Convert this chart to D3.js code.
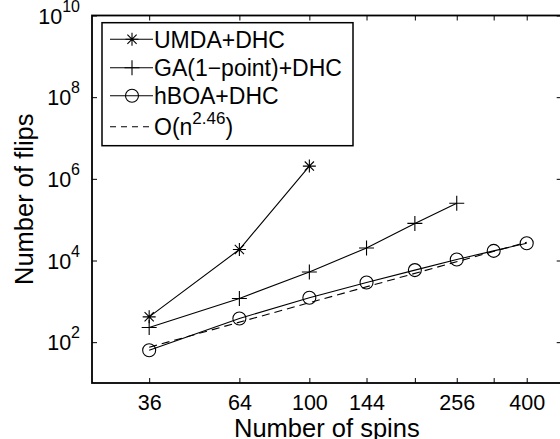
<!DOCTYPE html>
<html lang="en">
<head>
<meta charset="utf-8">
<title>Number of flips vs spins</title>
<script src="https://cdn.jsdelivr.net/npm/d3@7"></script>
<style>
  body { margin: 0; background: #fff; }
  text { font-family: "Liberation Sans", Arial, Helvetica, sans-serif; fill: #000; }
</style>
</head>
<body>
<script>
// data
var spins = [36, 64, 100, 144, 196, 256, 324, 400];
var spinLabels = ["36", "64", "100", "144", "", "256", "", "400"];
var umda = [417, 18600, 2050000];                         // n = 36, 64, 100
var ga = [229, 1175, 5250, 20300, 81000, 253000];         // n = 36 .. 256
var hboa = [63.6, 381, 1220, 2900, 5820, 10600, 17200, 26500];
var fitSpins = [36, 400];
var fitFlips = [75, 28000];
var yTicks = [1e2, 1e4, 1e6, 1e8, 1e10];
var yExps = ["2", "4", "6", "8", "10"];

var W = 560, H = 439;
// plot box (note: "top" is reserved on window, so use px*)
var pxL = 92, pxR = 561.7, pxT = 15.5, pxB = 383;

var svg = d3.select("body").append("svg")
  .attr("width", W).attr("height", H);

var x = d3.scaleLog().domain([25, 500]).range([pxL, pxR]);
var y = d3.scaleLog().domain([10, 1e10]).range([pxB, pxT]);

// axes, ticks pointing inward
var xAxis = d3.axisBottom(x).tickValues(spins)
  .tickFormat(function(d, i) { return spinLabels[i]; })
  .tickSizeInner(-5).tickSizeOuter(0).tickPadding(12);
var gx = svg.append("g").attr("transform", "translate(0," + pxB + ")").call(xAxis);
gx.selectAll("text").style("font-size", "21.5px");

svg.append("g").attr("transform", "translate(0," + pxT + ")")
  .call(d3.axisTop(x).tickValues(spins).tickFormat("").tickSizeInner(-5).tickSizeOuter(0));

var yAxis = d3.axisLeft(y).tickValues(yTicks).tickSizeInner(-5).tickSizeOuter(0).tickPadding(12);
var gy = svg.append("g").attr("transform", "translate(" + pxL + ",0)").call(yAxis);
gy.selectAll("text").each(function(d, i) {
  var t = d3.select(this).text("").attr("dy", "0.35em").style("font-size", "21.5px");
  t.append("tspan").text("10");
  t.append("tspan").attr("dy", "-12").style("font-size", "16px").text(yExps[i]);
});

svg.append("g").attr("transform", "translate(" + pxR + ",0)")
  .call(d3.axisRight(y).tickValues(yTicks).tickFormat("").tickSizeInner(-5).tickSizeOuter(0));

svg.selectAll(".domain").remove();
svg.selectAll(".tick line").attr("stroke", "#000").attr("stroke-width", 1);

// frame
svg.append("rect")
  .attr("x", pxL).attr("y", pxT)
  .attr("width", pxR - pxL).attr("height", pxB - pxT)
  .attr("fill", "none").attr("stroke", "#000").attr("stroke-width", 1.8);

// axis labels
svg.append("text")
  .attr("x", (pxL + pxR) / 2).attr("y", 436.5)
  .attr("text-anchor", "middle").style("font-size", "25.5px")
  .text("Number of spins");
svg.append("text")
  .attr("transform", "translate(32.5," + (pxT + pxB) / 2 + ") rotate(-90)")
  .attr("text-anchor", "middle").style("font-size", "25.5px")
  .text("Number of flips");

// markers
function star(g, cx, cy) {
  var r = 6.5, d = r * 0.71;
  var p = "M" + (cx - r) + "," + cy + "h" + (2 * r) +
          "M" + cx + "," + (cy - r) + "v" + (2 * r) +
          "M" + (cx - d) + "," + (cy - d) + "l" + (2 * d) + "," + (2 * d) +
          "M" + (cx - d) + "," + (cy + d) + "l" + (2 * d) + "," + (-2 * d);
  g.append("path").attr("d", p).attr("stroke", "#000").attr("stroke-width", 1.1).attr("fill", "none");
}
function plus(g, cx, cy) {
  var r = 7.5;
  g.append("path").attr("d", "M" + (cx - r) + "," + cy + "h" + (2 * r) + "M" + cx + "," + (cy - r) + "v" + (2 * r))
    .attr("stroke", "#000").attr("stroke-width", 1.1).attr("fill", "none");
}
function circ(g, cx, cy) {
  g.append("circle").attr("cx", cx).attr("cy", cy).attr("r", 6.5)
    .attr("stroke", "#000").attr("stroke-width", 1.1).attr("fill", "none");
}

var line = d3.line().x(function(d) { return x(d[0]); }).y(function(d) { return y(d[1]); });
var plot = svg.append("g");

function series(vals, xs, marker, dash) {
  var pts = vals.map(function(v, i) { return [xs[i], v]; });
  plot.append("path").attr("d", line(pts))
    .attr("fill", "none").attr("stroke", "#000").attr("stroke-width", 1.1)
    .attr("stroke-dasharray", dash || null);
  if (marker) pts.forEach(function(p) { marker(plot, x(p[0]), y(p[1])); });
}

series(fitFlips, fitSpins, null, "8,5");
series(umda, spins, star);
series(ga, spins, plus);
series(hboa, spins, circ);

// legend
var lg = svg.append("g");
lg.append("rect").attr("x", 102).attr("y", 22.7).attr("width", 251).attr("height", 123)
  .attr("fill", "#fff").attr("stroke", "#000").attr("stroke-width", 1.5);
var rows = [
  { y: 39.3, label: "UMDA+DHC", m: star },
  { y: 67.7, label: "GA(1\u2212point)+DHC", m: plus },
  { y: 95.7, label: "hBOA+DHC", m: circ },
  { y: 126.7, label: null, m: null, dash: "6,5" }
];
rows.forEach(function(r) {
  lg.append("line").attr("x1", 110).attr("x2", 153).attr("y1", r.y).attr("y2", r.y)
    .attr("stroke", "#000").attr("stroke-width", 1.1).attr("stroke-dasharray", r.dash || null);
  if (r.m) r.m(lg, 132, r.y);
  var t = lg.append("text").attr("x", 154).attr("y", r.y + 8.4).style("font-size", "23px");
  if (r.label) t.text(r.label);
  else {
    t.append("tspan").text("O(n");
    t.append("tspan").attr("dy", "-11").style("font-size", "17px").text("2.46");
    t.append("tspan").attr("dy", "11").text(")");
  }
});
</script>
</body>
</html>
